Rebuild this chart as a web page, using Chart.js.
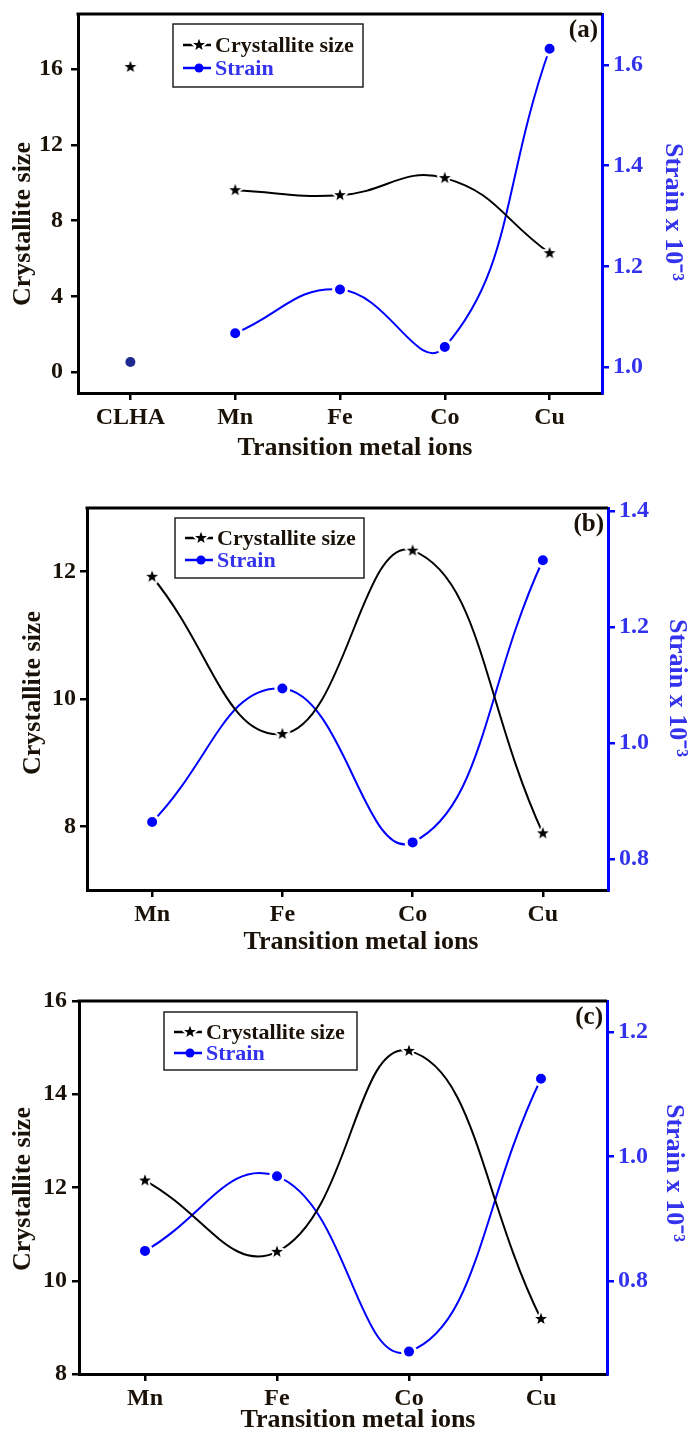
<!DOCTYPE html>
<html>
<head>
<meta charset="utf-8">
<script src="https://cdn.jsdelivr.net/npm/chart.js@4.4.1/dist/chart.umd.min.js"></script>
<style>
  html, body { margin: 0; padding: 0; background: #fff; }
  .panel { position: relative; width: 696px; }
</style>
</head>
<body>
<div class="panel" style="height:468px"><canvas id="chartA"></canvas></div>
<div class="panel" style="height:488px"><canvas id="chartB"></canvas></div>
<div class="panel" style="height:477px"><canvas id="chartC"></canvas></div>
<script>
// ---- data ----
var categoriesA = ["CLHA", "Mn", "Fe", "Co", "Cu"];
var crystalA = [16.1, 9.6, 9.34, 10.24, 6.28];
var strainA = [1.01, 1.067, 1.154, 1.04, 1.632];
var detachedA = 1; // CLHA is plotted but not joined to the curve

var categoriesB = ["Mn", "Fe", "Co", "Cu"];
var crystalB = [11.92, 9.45, 12.33, 7.89];
var strainB = [0.864, 1.094, 0.829, 1.315];

var categoriesC = ["Mn", "Fe", "Co", "Cu"];
var crystalC = [12.15, 10.62, 14.93, 9.18];
var strainC = [0.848, 0.968, 0.686, 1.125];

var leftTicksA = [0, 4, 8, 12, 16], rightTicksA = [1.0, 1.2, 1.4, 1.6];
var leftTicksB = [8, 10, 12], rightTicksB = [0.8, 1.0, 1.2, 1.4];
var leftTicksC = [8, 10, 12, 14, 16], rightTicksC = [0.8, 1.0, 1.2];

var xTitle = "Transition metal ions";
var leftTitle = "Crystallite size";
var rightTitle = "Strain x 10\u207B\u00B3";

var FONT = '"Liberation Serif", "Times New Roman", serif';
var BLUE = "#0000ff", BLUE_TXT = "#3333ee", INK = "#1a1208";

function makeStar(fill) {
  var c = document.createElement("canvas"), s = 20, g = c.getContext("2d");
  c.width = c.height = s;
  g.beginPath();
  for (var i = 0; i < 10; i++) {
    var r = i % 2 ? 2.6 : 6.2, a = -Math.PI / 2 + i * Math.PI / 5;
    g.lineTo(s / 2 + r * Math.cos(a), s / 2 + r * Math.sin(a));
  }
  g.closePath();
  g.lineJoin = "round";
  g.lineWidth = 4;
  g.strokeStyle = "#fff";
  g.stroke();
  g.fillStyle = fill;
  g.fill();
  return c;
}
var starImg = makeStar("#000");

function rotatedText(g, text, x, y, angle) {
  g.save();
  g.translate(x, y);
  g.rotate(angle);
  g.fillText(text, 0, 0);
  g.restore();
}

// top frame line, axis titles, panel letter and the boxed legend
var framePlugin = {
  id: "frame",
  afterDraw: function (chart, args, o) {
    var a = chart.chartArea, g = chart.ctx;
    g.save();
    g.strokeStyle = "#000";
    g.lineWidth = 3;
    g.beginPath();
    g.moveTo(a.left - 1.5, a.top);
    g.lineTo(a.right, a.top);
    g.stroke();

    // axis titles (off-centre in the original figure)
    g.font = "bold 26px " + FONT;
    g.textAlign = "center";
    g.textBaseline = "middle";
    g.fillStyle = INK;
    g.fillText(xTitle, o.xt[0], o.xt[1]);
    rotatedText(g, leftTitle, o.lt[0], o.lt[1], -Math.PI / 2);
    g.fillStyle = BLUE_TXT;
    rotatedText(g, rightTitle, o.rt[0], o.rt[1], Math.PI / 2);

    g.font = "bold 25px " + FONT;
    g.fillStyle = INK;
    g.textAlign = "right";
    g.textBaseline = "top";
    g.fillText(o.letter, a.right - 4, a.top + 4);

    var bx = a.left + o.lx, by = a.top + o.ly;
    g.lineWidth = 1.5;
    g.strokeStyle = "#222";
    g.strokeRect(bx, by, o.lw, o.lh);
    g.font = "bold 22px " + FONT;
    g.textAlign = "left";
    g.textBaseline = "middle";
    chart.data.datasets.filter(function (d) { return d.inLegend; }).forEach(function (d, i) {
      var y = by + o.rows[i], x0 = bx + 10, x1 = x0 + 28, xm = x0 + 16;
      g.strokeStyle = d.borderColor;
      g.lineWidth = 2.5;
      g.beginPath(); g.moveTo(x0, y); g.lineTo(x1, y); g.stroke();
      if (d.pointStyle === "circle") {
        g.fillStyle = d.pointBackgroundColor;
        g.beginPath(); g.arc(xm, y, 4.5, 0, Math.PI * 2); g.fill();
      } else {
        g.drawImage(starImg, xm - 10, y - 10);
      }
      g.fillStyle = d.legendColor;
      g.fillText(d.label, x1 + 4, y + 1);
    });
    g.restore();
  }
};

function fixWidth(w) {
  return function (s) { s.width = w; s.paddingTop = 0; s.paddingBottom = 0; };
}

function makePanel(id, cats, crystal, strain, leftTicks, rightTicks, geo) {
  var skip = geo.detached || 0;
  var datasets = [
    {
      label: "Crystallite size",
      data: crystal.map(function (v, i) { return i < skip ? null : v; }),
      yAxisID: "y", borderColor: "#000", borderWidth: 2, tension: 0.45,
      pointStyle: starImg, pointRadius: 6, inLegend: true, legendColor: INK
    },
    {
      label: "Strain",
      data: strain.map(function (v, i) { return i < skip ? null : v; }),
      yAxisID: "y1", borderColor: BLUE, borderWidth: 2, tension: 0.45,
      pointStyle: "circle", pointRadius: 6.5, pointBackgroundColor: BLUE,
      pointBorderColor: "#fff", pointBorderWidth: 3, inLegend: true, legendColor: BLUE_TXT
    }
  ];
  if (skip) {
    datasets.push({
      label: "Crystallite size (CLHA)",
      data: crystal.map(function (v, i) { return i < skip ? v : null; }),
      yAxisID: "y", showLine: false, pointStyle: starImg, pointRadius: 6
    });
    datasets.push({
      label: "Strain (CLHA)",
      data: strain.map(function (v, i) { return i < skip ? v : null; }),
      yAxisID: "y1", showLine: false, pointStyle: "circle", pointRadius: 5,
      pointBackgroundColor: "#1c2a8f", pointBorderColor: "#1c2a8f", pointBorderWidth: 0
    });
  }

  var tickFont = { family: FONT, size: 24, weight: "bold" };

  return new Chart(document.getElementById(id), {
    type: "line",
    data: { labels: cats, datasets: datasets },
    plugins: [framePlugin],
    options: {
      responsive: true,
      maintainAspectRatio: false,
      animation: false,
      layout: { padding: { top: geo.top, left: 0, right: 0, bottom: 0 } },
      plugins: {
        legend: { display: false },
        tooltip: { enabled: false },
        frame: {
          letter: geo.letter, lx: geo.lx, ly: geo.ly, lw: geo.lw, lh: geo.lh, rows: geo.rows,
          xt: geo.xt, lt: geo.lt, rt: geo.rt
        }
      },
      scales: {
        x: {
          type: "category",
          offset: true,
          afterFit: function (s) { s.height = geo.xH; s.paddingLeft = 0; s.paddingRight = 0; },
          border: { display: true, color: "#000", width: 3 },
          grid: { drawOnChartArea: false, drawTicks: true, tickLength: 7, color: "#000", lineWidth: 2.5 },
          ticks: { color: INK, padding: 3, font: tickFont }
        },
        y: {
          position: "left",
          min: geo.yMin, max: geo.yMax,
          afterFit: fixWidth(geo.leftW),
          afterBuildTicks: function (s) { s.ticks = leftTicks.map(function (v) { return { value: v }; }); },
          border: { display: true, color: "#000", width: 3 },
          grid: { drawOnChartArea: false, drawTicks: true, tickLength: 7, color: "#000", lineWidth: 2.5 },
          ticks: {
            color: INK, padding: geo.lpad, font: tickFont,
            callback: function (v) { return String(v); }
          }
        },
        y1: {
          position: "right",
          min: geo.y1Min, max: geo.y1Max,
          afterFit: fixWidth(geo.rightW),
          afterBuildTicks: function (s) { s.ticks = rightTicks.map(function (v) { return { value: v }; }); },
          border: { display: true, color: BLUE, width: 3 },
          grid: { drawOnChartArea: false, drawTicks: true, tickLength: 7, color: BLUE, lineWidth: 2.5 },
          ticks: {
            color: BLUE_TXT, padding: 4, font: tickFont,
            callback: function (v) { return v.toFixed(1); }
          }
        }
      }
    }
  });
}

makePanel("chartA", categoriesA, crystalA, strainA, leftTicksA, rightTicksA, {
  detached: detachedA, letter: "(a)",
  top: 14, leftW: 78, rightW: 94, xH: 75, lpad: 8,
  xt: [355, 448], lt: [23, 224], rt: [673, 212],
  yMin: -1.1, yMax: 18.9, y1Min: 0.9485, y1Max: 1.701,
  lx: 95, ly: 10, lw: 190, lh: 63, rows: [21, 44]
});
makePanel("chartB", categoriesB, crystalB, strainB, leftTicksB, rightTicksB, {
  letter: "(b)",
  top: 40, leftW: 87, rightW: 88, xH: 66, lpad: 4,
  xt: [361, 474], lt: [33, 225], rt: [677, 220],
  yMin: 7, yMax: 13, y1Min: 0.747, y1Max: 1.405,
  lx: 88, ly: 10, lw: 189, lh: 60, rows: [20, 42]
});
makePanel("chartC", categoriesC, crystalC, strainC, leftTicksC, rightTicksC, {
  letter: "(c)",
  top: 45, leftW: 79, rightW: 89, xH: 59, lpad: 5,
  xt: [358, 464], lt: [23, 233], rt: [674, 217],
  yMin: 8, yMax: 16, y1Min: 0.65, y1Max: 1.25,
  lx: 85, ly: 11, lw: 193, lh: 58, rows: [20, 41]
});
</script>
</body>
</html>
